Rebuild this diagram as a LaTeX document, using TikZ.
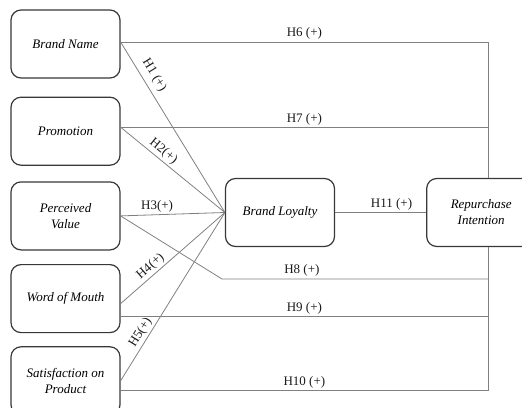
\documentclass[tikz,border=0pt]{standalone}
\usepackage{fontspec}
\setmainfont{Liberation Serif}
\usepackage{tikz}
\usetikzlibrary{positioning}

\begin{document}
\begin{tikzpicture}
          [x=1pt, y=-1pt,
           box/.style={draw=black!78, line width=1.2pt, rounded corners=10pt,
                       minimum width=109pt, minimum height=68pt, align=center,
                       font=\fontsize{13}{16}\selectfont\itshape, text=black},
           link/.style={draw=black!50, line width=0.8pt},
           hyp/.style={font=\fontsize{13}{15}\selectfont, text=black!90, inner sep=2pt}]
          \useasboundingbox (0,0) rectangle (522,407);
          \clip (0,0) rectangle (522,407);

          \node (bn) [box] at (65.5,44) {Brand Name};
          \node (pr) [box, below = 18pt of bn] {Promotion};
          \node (pv) [box, below = 15.5pt of pr] {Perceived\\Value};
          \node (wom) [box, below = 13.5pt of pv] {Word of Mouth};
          \node (sat) [box, below = 13pt of wom] {Satisfaction on\\Product};

          \node (bl) [box] at (280,212.5) {Brand Loyalty};
          \node (ri) [box, right = 91pt of bl] {Repurchase\\Intention};

          \coordinate (rin) at ([xshift=7pt]ri.north);
          \coordinate (ris) at ([xshift=7pt]ri.south);
          \coordinate (bend) at (222,279);
          \coordinate (h10) at ([yshift=-10pt]sat.east);

          % to brand loyalty
          \draw[link] ([yshift=2pt]bn.east) -- node[hyp, pos=0.23, sloped, above=3pt] {H1 (+)} (bl.west);
          \draw[link] ([yshift=4pt]pr.east) -- node[hyp, pos=0.36, sloped, above] {H2(+)} (bl.west);
          \draw[link] (pv.east) -- node[hyp, pos=0.35, above] {H3(+)} (bl.west);
          \draw[link] ([yshift=-5pt]wom.east) -- node[hyp, pos=0.34, sloped, above] {H4(+)} (bl.west);
          \draw[link] (sat.east) -- node[hyp, pos=0.26, sloped, above] {H5(+)} (bl.west);

          % to repurchase intention
          \draw[link] ([yshift=2pt]bn.east) -- node[hyp, above] {H6 (+)} ([yshift=2pt]bn.east -| rin) -- (rin);
          \draw[link] ([yshift=4pt]pr.east) -- node[hyp, above] {H7 (+)} ([yshift=4pt]pr.east -| rin);
          \draw[link] (pv.east) -- (bend) -- node[hyp, pos=0.3, above] {H8 (+)} (bend -| ris);
          \draw[link] ([yshift=-18pt]wom.east) -- node[hyp, above] {H9 (+)} ([yshift=-18pt]wom.east -| ris);
          \draw[link] (h10) -- node[hyp, above] {H10 (+)} (h10 -| ris) -- (ris);
          \draw[link] (bl.east) -- node[hyp, pos=0.62, above] {H11 (+)} (ri.west);

        \end{tikzpicture}
\end{document}
